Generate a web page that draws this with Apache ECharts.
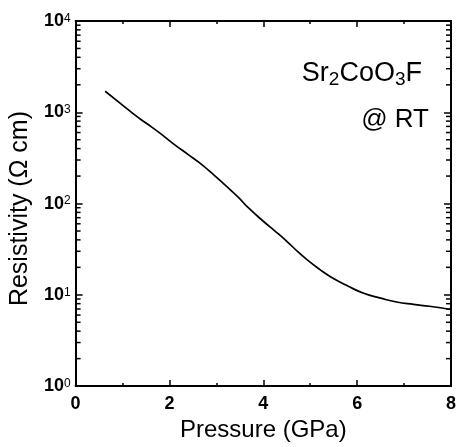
<!DOCTYPE html>
<html>
<head>
<meta charset="utf-8">
<script src="https://cdn.jsdelivr.net/npm/echarts@6/dist/echarts.min.js"></script>
<style>
html,body{margin:0;padding:0;background:#fff;}
#chart{width:459px;height:447px;}
</style>
</head>
<body>
<div id="chart"></div>
<script>
// Data
var pressure = [0.63, 1.0, 1.26, 1.5, 1.79, 2.1, 2.4, 2.63, 2.95, 3.2, 3.47, 3.68, 4.0, 4.25, 4.53, 4.74, 4.95, 5.2, 5.44, 5.8, 6.14, 6.5, 6.84, 7.2, 7.54, 8.0];
var resistivity = [1700, 1200, 935, 762, 594, 445, 344, 282, 205, 157, 117, 90, 64, 50, 37.4, 29.5, 23.8, 19, 15.7, 12.5, 10.4, 9.2, 8.34, 7.85, 7.49, 6.9];
var xTicks = [0, 2, 4, 6, 8];
var yDecades = [1, 10, 100, 1000, 10000];
var yMinorTicks = [];
for (var d = 0; d < yDecades.length - 1; d++) {
  for (var m = 2; m <= 9; m++) yMinorTicks.push(m * yDecades[d]);
}

var FONT = 'Liberation Sans, Arial, sans-serif';
var chart = echarts.init(document.getElementById('chart'), null, {renderer: 'canvas'});

var lineData = pressure.map(function (p, i) { return [p, resistivity[i]]; });

var option = {
  animation: false,
  backgroundColor: '#fff',
  textStyle: {fontFamily: FONT},
  grid: {left: 75, top: 21, right: 4, bottom: 54, containLabel: false},
  title: [{
    text: '{a|Sr}{s|2}{a|CoO}{s|3}{a|F}',
    right: 32, top: 54,
    textStyle: {
      fontWeight: 'normal',
      rich: {
        a: {fontFamily: FONT, fontSize: 27, fontWeight: 'normal', color: '#000'},
        s: {fontFamily: FONT, fontSize: 19, fontWeight: 'normal', color: '#000', padding: [11, 0, 0, 0]}
      }
    }
  }, {
    text: '@ RT',
    right: 25, top: 102,
    textStyle: {fontFamily: FONT, fontSize: 26, fontWeight: 'normal', color: '#000'}
  }],
  xAxis: [{
    type: 'value', min: 0, max: 8, interval: 2, position: 'bottom',
    name: 'Pressure (GPa)', nameLocation: 'middle', nameGap: 25,
    nameTextStyle: {fontFamily: FONT, fontSize: 24, color: '#000'},
    axisLine: {show: true, onZero: false, lineStyle: {color: '#000', width: 2}},
    axisTick: {show: true, inside: true, length: 6, lineStyle: {color: '#000', width: 1.5}},
    minorTick: {show: true, splitNumber: 2, length: 3, lineStyle: {color: '#000', width: 1.5}},
    axisLabel: {fontFamily: FONT, fontSize: 18, color: '#000', margin: 9, fontWeight: 'bold',
      formatter: function (v) { return xTicks.indexOf(v) >= 0 ? String(v) : ''; }},
    splitLine: {show: false}
  }, {
    type: 'value', min: 0, max: 8, interval: 2, position: 'top',
    axisLine: {show: true, onZero: false, lineStyle: {color: '#000', width: 2}},
    axisTick: {show: true, inside: true, length: 6, lineStyle: {color: '#000', width: 1.5}},
    minorTick: {show: true, splitNumber: 2, length: 3, lineStyle: {color: '#000', width: 1.5}},
    axisLabel: {show: false},
    splitLine: {show: false}
  }],
  yAxis: [{
    type: 'log', logBase: 10, min: 1, max: 10000, position: 'left',
    name: 'Resistivity (\u03A9 cm)', nameLocation: 'middle', nameGap: 29, nameRotate: 90,
    nameTextStyle: {fontFamily: FONT, fontSize: 25, color: '#000', padding: [0, 10, 0, 0]},
    axisLine: {show: true, onZero: false, lineStyle: {color: '#000', width: 2}},
    axisTick: {show: true, inside: true, length: 7, lineStyle: {color: '#000', width: 1.5}},
    axisLabel: {
      margin: 5,
      formatter: function (v) {
        var e = Math.round(Math.log(v) / Math.LN10);
        return '{b|10}{s|' + e + '}';
      },
      rich: {
        b: {fontFamily: FONT, fontSize: 18, color: '#000', fontWeight: 'bold'},
        s: {fontFamily: FONT, fontSize: 12, color: '#000', padding: [0, 0, 5, 0]}
      }
    },
    splitLine: {show: false}
  }, {
    type: 'log', logBase: 10, min: 1, max: 10000, position: 'right',
    axisLine: {show: true, onZero: false, lineStyle: {color: '#000', width: 2}},
    axisTick: {show: true, inside: true, length: 7, lineStyle: {color: '#000', width: 1.5}},
    axisLabel: {show: false},
    splitLine: {show: false}
  }],
  series: [{
    type: 'line',
    xAxisIndex: 0, yAxisIndex: 0,
    data: lineData,
    smooth: 0.5,
    showSymbol: false,
    symbol: 'none',
    lineStyle: {color: '#000', width: 1.7}
  }, {
    type: 'custom',
    xAxisIndex: 0, yAxisIndex: 0,
    clip: false,
    silent: true,
    data: yMinorTicks.map(function (v) { return [0, v]; }),
    renderItem: function (params, api) {
      var v = api.value(1);
      var pl = api.coord([0, v]);
      var pr = api.coord([8, v]);
      var style = {stroke: '#000', lineWidth: 1.5};
      return {
        type: 'group',
        children: [
          {type: 'line', shape: {x1: pl[0], y1: pl[1], x2: pl[0] + 5, y2: pl[1]}, style: style},
          {type: 'line', shape: {x1: pr[0], y1: pr[1], x2: pr[0] - 5, y2: pr[1]}, style: style}
        ]
      };
    }
  }]
};
chart.setOption(option);
</script>
</body>
</html>
